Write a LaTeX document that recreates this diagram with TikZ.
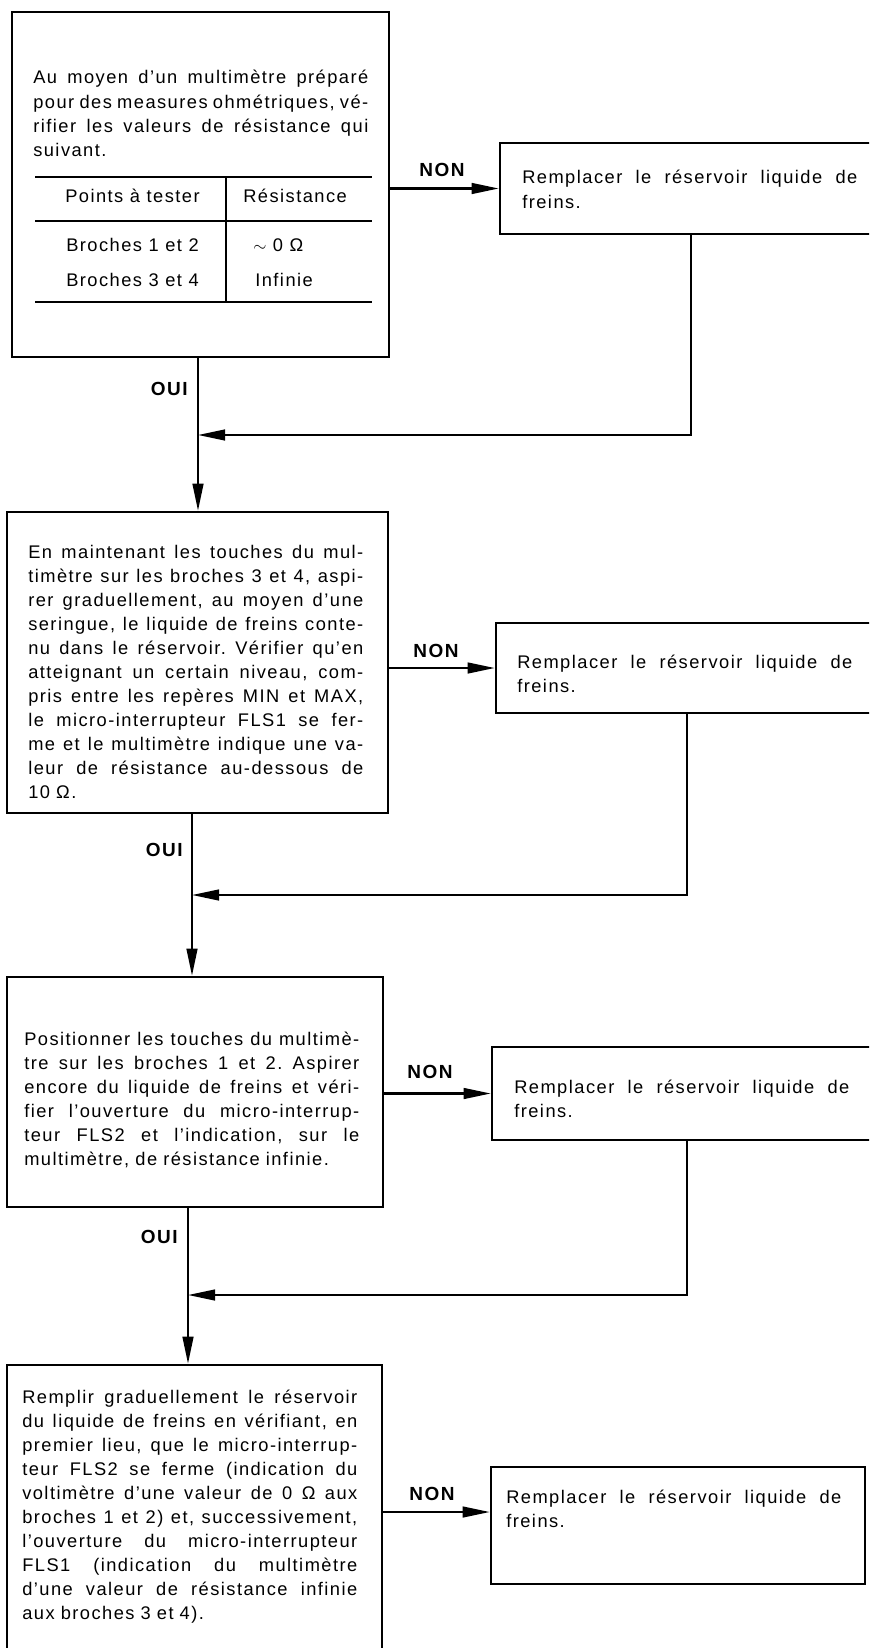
\documentclass[tikz,border=0pt]{standalone}
\usepackage{fontspec}
\setmainfont{Liberation Sans}[LetterSpace=8]
\usetikzlibrary{arrows.meta,fit}
\frenchspacing

\newlength\txtw
\setlength\txtw{8.375cm}
% one justified line of a box text
\def\jl#1{\makebox[\txtw][s]{\spaceskip=\fontdimen2\font plus 1fil minus .15em\xspaceskip=\spaceskip #1}}

\tikzset{
  bx/.style={draw, line width=1.8pt, inner sep=0pt},
  txt/.style={anchor=base west, inner sep=0pt, text width=\txtw, align=left,
    font=\fontsize{13}{17.07}\selectfont},
  cell/.style={anchor=base west, inner sep=0pt, font=\fontsize{13}{17.07}\selectfont},
  lab/.style={inner sep=0pt, font=\bfseries\fontsize{13.5}{15}\selectfont},
  ln/.style={line width=1.5pt},
  arr/.style={line width=1.5pt, -{Triangle[length=0.68cm,width=0.27cm]}},
}

\begin{document}
\begin{tikzpicture}[x=0.025cm, y=-0.025cm]
			\useasboundingbox (0,0) rectangle (869,1648);
			\clip (0,0) rectangle (869,1648);
			
			%%%%% boxes on the left %%%%%
			
			\node[bx, fit={(12,12) (389,357)}] (chk1) {};
			\node[txt] (t1) at (33,84) {\jl{Au moyen d’un multimètre préparé}\\
				\jl{pour des measures ohmétriques, vé-}\\
				\jl{rifier les valeurs de résistance qui}\\
				suivant.};
			
			% resistance table
			\draw[ln] (35,177) -- (372,177) (35,221) -- (372,221) (35,302) -- (372,302);
			\draw[ln] (226,177) -- (226,302);
			\node[cell] (h1) at (65,203) {Points à tester};
			\node[cell] (h2) at (243,203) {Résistance};
			\node[cell] (c11) at (66,252) {Broches 1 et 2};
			\node[cell] (c12) at (253,252) {$\sim$ 0 Ω};
			\node[cell] (c21) at (66,286) {Broches 3 et 4};
			\node[cell] (c22) at (255,286) {Infinie};
			
			\node[bx, fit={(7,512) (388,813)}] (chk2) {};
			\node[txt] (t2) at (28,558) {\jl{En maintenant les touches du mul-}\\
				\jl{timètre sur les broches 3 et 4, aspi-}\\
				\jl{rer graduellement, au moyen d’une}\\
				\jl{seringue, le liquide de freins conte-}\\
				\jl{nu dans le réservoir. Vérifier qu’en}\\
				\jl{atteignant un certain niveau, com-}\\
				\jl{pris entre les repères MIN et MAX,}\\
				\jl{le micro-interrupteur FLS1 se fer-}\\
				\jl{me et le multimètre indique une va-}\\
				\jl{leur de résistance au-dessous de}\\
				10 Ω.};
			
			\node[bx, fit={(7,977) (383,1207)}] (chk3) {};
			\node[txt] (t3) at (24,1045) {\jl{Positionner les touches du multimè-}\\
				\jl{tre sur les broches 1 et 2. Aspirer}\\
				\jl{encore du liquide de freins et véri-}\\
				\jl{fier l’ouverture du micro-interrup-}\\
				\jl{teur FLS2 et l’indication, sur le}\\
				multimètre, de résistance infinie.};
			
			\node[bx, fit={(7,1365) (382,1659)}] (chk4) {};
			\node[txt] (t4) at (22,1403) {\jl{Remplir graduellement le réservoir}\\
				\jl{du liquide de freins en vérifiant, en}\\
				\jl{premier lieu, que le micro-interrup-}\\
				\jl{teur FLS2 se ferme (indication du}\\
				\jl{voltimètre d’une valeur de 0 Ω aux}\\
				\jl{broches 1 et 2) et, successivement,}\\
				\jl{l’ouverture du micro-interrupteur}\\
				\jl{FLS1 (indication du multimètre}\\
				\jl{d’une valeur de résistance infinie}\\
				aux broches 3 et 4).};
			
			%%%%% boxes on the right %%%%%
			
			\node[bx, fit={(500,143) (880,234)}] (rep1) {};
			\node[txt] (u1) at (522,184) {\jl{Remplacer le réservoir liquide de}\\ freins.};
			
			\node[bx, fit={(496,623) (876,713)}] (rep2) {};
			\node[txt] (u2) at (517,668) {\jl{Remplacer le réservoir liquide de}\\ freins.};
			
			\node[bx, fit={(492,1047) (872,1140)}] (rep3) {};
			\node[txt] (u3) at (514,1093) {\jl{Remplacer le réservoir liquide de}\\ freins.};
			
			\node[bx, fit={(491,1467) (865,1584)}] (rep4) {};
			\node[txt] (u4) at (506,1503) {\jl{Remplacer le réservoir liquide de}\\ freins.};
			
			%%%%% labels %%%%%
			
			\node[lab, anchor=base] (non1) at (442,177) {NON};
			\node[lab, anchor=base] (non2) at (436,657) {NON};
			\node[lab, anchor=base] (non3) at (430,1078) {NON};
			\node[lab, anchor=base] (non4) at (432,1500) {NON};
			\node[lab, anchor=base east] (oui1) at (188,395) {OUI};
			\node[lab, anchor=base east] (oui2) at (183,856) {OUI};
			\node[lab, anchor=base east] (oui3) at (178,1243) {OUI};
			
			%%%%% connectors %%%%%
			
			\coordinate (j1) at (198,435);
			\coordinate (r1) at (691,435);
			\coordinate (j2) at (192,895);
			\coordinate (r2) at (687,895);
			\coordinate (j3) at (188,1295);
			\coordinate (r3) at (687,1295);
			
			\draw[arr] (chk1.east |- rep1.west) -- (rep1.west);
			\draw[arr] (chk2.east |- rep2.west) -- (rep2.west);
			\draw[arr] (chk3.east |- rep3.west) -- (rep3.west);
			\draw[arr] (chk4.east) -- (chk4.east -| rep4.west);
			
			\draw[ln] (chk1.south -| j1) -- (j1);
			\draw[arr] (rep1.south -| r1) -- (r1) -- (j1);
			\draw[arr] (j1) -- (chk2.north -| j1);
			
			\draw[ln] (chk2.south -| j2) -- (j2);
			\draw[arr] (rep2.south -| r2) -- (r2) -- (j2);
			\draw[arr] (j2) -- (chk3.north -| j2);
			
			\draw[ln] (chk3.south -| j3) -- (j3);
			\draw[arr] (rep3.south -| r3) -- (r3) -- (j3);
			\draw[arr] (j3) -- (chk4.north -| j3);
\end{tikzpicture}
\end{document}
